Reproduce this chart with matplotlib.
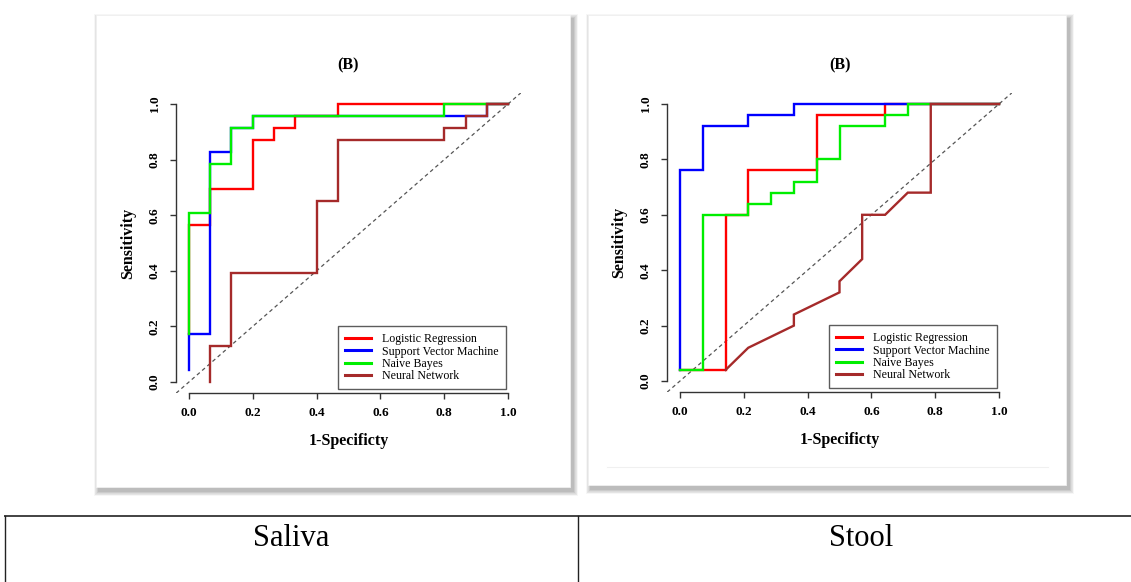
import matplotlib
matplotlib.use("Agg")
import matplotlib.pyplot as plt
from matplotlib.patches import Rectangle

# ---------------- data ----------------
methods = ["Logistic Regression", "Support Vector Machine", "Naive Bayes", "Neural Network"]
colors = ["red", "blue", "#00ee00", "#a52a2a"]
panel_titles = ["(B)", "(B)"]
table_labels = ["Saliva", "Stool"]
tick_values = [0.0, 0.2, 0.4, 0.6, 0.8, 1.0]
tick_labels = ["0.0", "0.2", "0.4", "0.6", "0.8", "1.0"]

# Saliva ROC curves (1-specificity, sensitivity)
saliva_lr_x = [0.0, 0.0, 0.067, 0.067, 0.2, 0.2, 0.267, 0.267, 0.333, 0.333, 0.467, 0.467, 1.0]
saliva_lr_y = [0.174, 0.565, 0.565, 0.696, 0.696, 0.870, 0.870, 0.913, 0.913, 0.957, 0.957, 1.0, 1.0]
saliva_svm_x = [0.0, 0.0, 0.067, 0.067, 0.133, 0.133, 0.2, 0.2, 0.933, 0.933, 1.0]
saliva_svm_y = [0.043, 0.174, 0.174, 0.826, 0.826, 0.913, 0.913, 0.957, 0.957, 1.0, 1.0]
saliva_nb_x = [0.0, 0.0, 0.067, 0.067, 0.133, 0.133, 0.2, 0.2, 0.8, 0.8, 1.0]
saliva_nb_y = [0.174, 0.609, 0.609, 0.783, 0.783, 0.913, 0.913, 0.957, 0.957, 1.0, 1.0]
saliva_nn_x = [0.067, 0.067, 0.133, 0.133, 0.4, 0.4, 0.467, 0.467, 0.8, 0.8, 0.867, 0.867, 0.933, 0.933, 1.0]
saliva_nn_y = [0.0, 0.130, 0.130, 0.391, 0.391, 0.652, 0.652, 0.870, 0.870, 0.913, 0.913, 0.957, 0.957, 1.0, 1.0]

# Stool ROC curves
stool_lr_x = [0.0, 0.143, 0.143, 0.214, 0.214, 0.429, 0.429, 0.643, 0.643, 1.0]
stool_lr_y = [0.04, 0.04, 0.6, 0.6, 0.76, 0.76, 0.96, 0.96, 1.0, 1.0]
stool_svm_x = [0.0, 0.0, 0.071, 0.071, 0.214, 0.214, 0.357, 0.357, 1.0]
stool_svm_y = [0.04, 0.76, 0.76, 0.92, 0.92, 0.96, 0.96, 1.0, 1.0]
stool_nb_x = [0.0, 0.071, 0.071, 0.214, 0.214, 0.286, 0.286, 0.357, 0.357, 0.429, 0.429,
              0.5, 0.5, 0.643, 0.643, 0.714, 0.714, 1.0]
stool_nb_y = [0.04, 0.04, 0.6, 0.6, 0.64, 0.64, 0.68, 0.68, 0.72, 0.72, 0.8,
              0.8, 0.92, 0.92, 0.96, 0.96, 1.0, 1.0]
stool_nn_x = [0.143, 0.214, 0.357, 0.357, 0.5, 0.5, 0.571, 0.571, 0.643, 0.714, 0.786, 0.786, 1.0]
stool_nn_y = [0.04, 0.12, 0.20, 0.24, 0.32, 0.36, 0.44, 0.60, 0.60, 0.68, 0.68, 1.0, 1.0]

saliva_curves = [(saliva_lr_x, saliva_lr_y), (saliva_svm_x, saliva_svm_y),
                 (saliva_nb_x, saliva_nb_y), (saliva_nn_x, saliva_nn_y)]
stool_curves = [(stool_lr_x, stool_lr_y), (stool_svm_x, stool_svm_y),
                (stool_nb_x, stool_nb_y), (stool_nn_x, stool_nn_y)]

# ---------------- layout ----------------
W, H = 1131, 582
SERIF = "Liberation Serif"
plt.rcParams["font.family"] = [SERIF, "DejaVu Serif"]

fig = plt.figure(figsize=(W / 100, H / 100), dpi=100)
fig.patch.set_facecolor("white")

bg = fig.add_axes([0, 0, 1, 1], zorder=0)
bg.set_xlim(0, W)
bg.set_ylim(H, 0)
bg.axis("off")


def card(x0, y0, x1, y1):
    w, h = x1 - x0, y1 - y0
    for r in range(8, 0, -1):
        bg.add_patch(Rectangle((x0 + 3 - r * 0.6, y0 + 4 - r * 0.6), w + r * 1.2, h + r * 1.2,
                               facecolor="black", edgecolor="none", alpha=0.035))
    bg.add_patch(Rectangle((x0, y0), w, h, facecolor="white", edgecolor="#f0f0f0", lw=0.6))


card(96, 15, 570, 487)
card(588, 15, 1066, 485)
bg.plot([607, 1048], [467, 467], color="#f0f0f0", lw=0.8)

# table
bg.plot([4, W], [515.5, 515.5], color="#222222", lw=1.2, solid_capstyle="butt")
bg.plot([4.5, 4.5], [515.5, H], color="#222222", lw=1.0)
bg.plot([578, 578], [515.5, H], color="#222222", lw=1.0)
bg.text(291, 546, table_labels[0], ha="center", va="baseline", fontsize=22, family=SERIF)
bg.text(861, 546, table_labels[1], ha="center", va="baseline", fontsize=22, family=SERIF)


def px_rect(x0, y0, x1, y1):
    return [x0 / W, 1 - y1 / H, (x1 - x0) / W, (y1 - y0) / H]


axes_rects = [px_rect(176.2, 92.9, 520.8, 393.1), px_rect(667.2, 92.9, 1011.8, 392.1)]
all_curves = [saliva_curves, stool_curves]

for rect, curves, title in zip(axes_rects, all_curves, panel_titles):
    ax = fig.add_axes(rect, zorder=2)
    ax.set_facecolor("none")
    ax.set_xlim(-0.04, 1.04)
    ax.set_ylim(-0.04, 1.04)
    ax.plot([-0.04, 1.04], [-0.04, 1.04], color="#555555", lw=0.9, dashes=(3, 2.5))
    for (xs, ys), c, name in zip(curves, colors, methods):
        ax.plot(xs, ys, color=c, lw=1.7, label=name, solid_joinstyle="miter")
    for s in ["top", "right"]:
        ax.spines[s].set_visible(False)
    for s in ["left", "bottom"]:
        ax.spines[s].set_bounds(0, 1)
        ax.spines[s].set_color("#333333")
        ax.spines[s].set_linewidth(1.0)
    ax.set_xticks(tick_values)
    ax.set_xticklabels(tick_labels)
    ax.set_yticks(tick_values)
    ax.set_yticklabels(tick_labels, rotation=90, va="center")
    ax.tick_params(direction="out", length=4.3, width=1.0, color="#333333",
                   labelsize=9.5, pad=6)
    ax.tick_params(axis="y", pad=7)
    for lab in ax.get_xticklabels() + ax.get_yticklabels():
        lab.set_fontweight("bold")
        lab.set_family(SERIF)
    ax.set_xlabel("1-Specificty", fontsize=11.5, fontweight="bold", family=SERIF, labelpad=10)
    ax.set_ylabel("Sensitivity", fontsize=11.5, fontweight="bold", family=SERIF, labelpad=9)
    ax.set_title(title, fontsize=11.5, fontweight="bold", family=SERIF, pad=17)
    leg = ax.legend(loc="lower right", bbox_to_anchor=(0.957, 0.013), borderaxespad=0,
                    fancybox=False, frameon=True, edgecolor="#333333",
                    prop={"family": SERIF, "size": 8.6}, handlelength=2.2,
                    handletextpad=0.9, labelspacing=0.02, borderpad=0.6)
    leg.get_frame().set_linewidth(1.0)
    for h in leg.get_lines():
        h.set_linewidth(2.2)

fig.savefig("out.png", dpi=100, facecolor="white")
